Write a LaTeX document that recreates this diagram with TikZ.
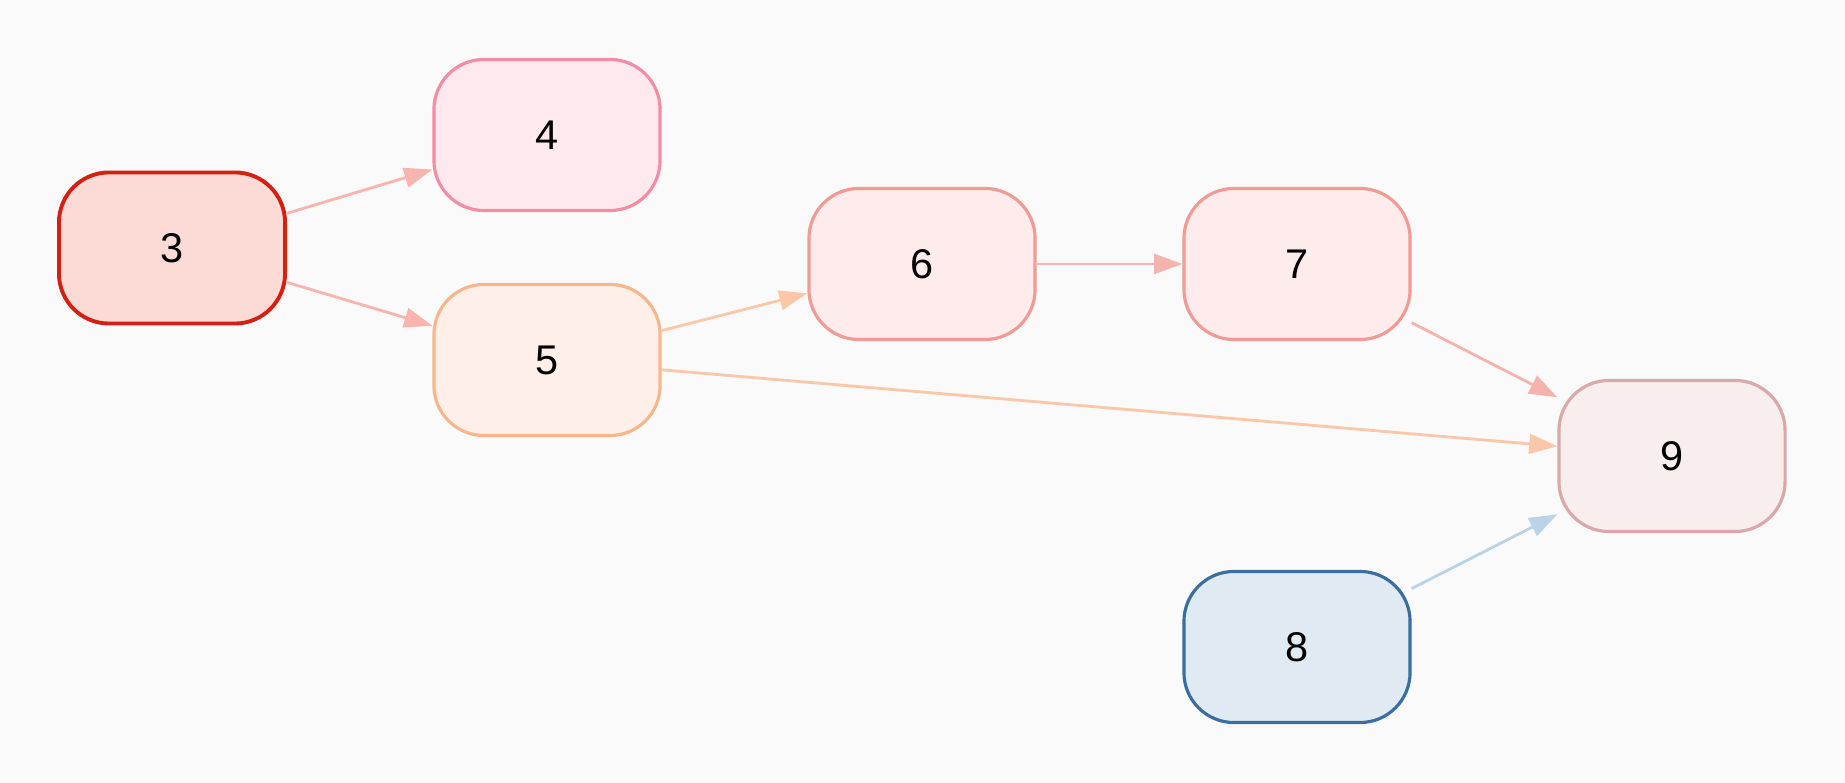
\documentclass[tikz,border=0pt]{standalone}
\usepackage{fontspec}
\setmainfont{Liberation Sans}
\usetikzlibrary{arrows.meta}
\definecolor{bg}{HTML}{FAFAFA}
\definecolor{txt}{HTML}{000000}
\definecolor{rootfill}{HTML}{FCDAD6}
\definecolor{rootline}{HTML}{D42013}
\definecolor{pinkfill}{HTML}{FEEAEE}
\definecolor{pinkline}{HTML}{F48CA5}
\definecolor{peachfill}{HTML}{FEF0E8}
\definecolor{peachline}{HTML}{F7B68C}
\definecolor{rosefill}{HTML}{FEECEC}
\definecolor{roseline}{HTML}{F29A94}
\definecolor{bluefill}{HTML}{E0EAF3}
\definecolor{blueline}{HTML}{3A6EA0}
\definecolor{sinkfill}{HTML}{F8EEEE}
\definecolor{sinkline}{HTML}{DAA8AA}
\definecolor{salmonedge}{HTML}{F9B4AE}
\definecolor{peachedge}{HTML}{FAC8A8}
\definecolor{roseedge}{HTML}{F6B3AE}
\definecolor{blueedge}{HTML}{BBD3E6}
\tikzset{
  box/.style={draw, rounded corners=0.5cm, line width=0.9pt, minimum width=2.26cm,
              minimum height=1.51cm, inner sep=0pt, text=txt,
              font=\fontsize{11.8}{13}\selectfont},
  link/.style={-{Triangle[length=8pt,width=5.6pt]}, line width=0.8pt}
}

\begin{document}
\begin{tikzpicture}[x=0.01cm,y=-0.01cm]
  \fill[bg] (0,0) rectangle (1845,783);
  % nodes
  \node[box, fill=rootfill, draw=rootline, line width=1.1pt] (n3) at (172,248) {3};
  \node[box, fill=pinkfill, draw=pinkline] (n4) at (547,135) {4};
  \node[box, fill=peachfill, draw=peachline] (n5) at (547,360) {5};
  \node[box, fill=rosefill, draw=roseline] (n6) at (922,264) {6};
  \node[box, fill=rosefill, draw=roseline] (n7) at (1297,264) {7};
  \node[box, fill=bluefill, draw=blueline] (n8) at (1297,647) {8};
  \node[box, fill=sinkfill, draw=sinkline] (n9) at (1672,456) {9};
  % edges
  \draw[link, salmonedge] (n3) -- (n4);
  \draw[link, salmonedge] (n3) -- (n5);
  \draw[link, peachedge] (n5) -- (n6);
  \draw[link, peachedge] (n5) -- (n9);
  \draw[link, roseedge] (n6) -- (n7);
  \draw[link, roseedge] (n7) -- (n9);
  \draw[link, blueedge] (n8) -- (n9);
\end{tikzpicture}
\end{document}
